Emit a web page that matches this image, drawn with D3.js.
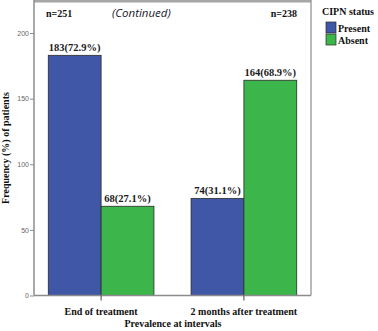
<!DOCTYPE html>
<html>
<head>
<meta charset="utf-8">
<script src="https://cdn.jsdelivr.net/npm/d3@7"></script>
<style>
  body { margin: 0; background: #fff; }
  svg { display: block; }
</style>
</head>
<body>
<svg id="chart" width="378" height="331"></svg>
<script>
// data
const intervals = ['End of treatment', '2 months after treatment'];
const totals = ['n=251', 'n=238'];
const statuses = ['Present', 'Absent'];
const present = [183, 74];
const absent = [68, 164];
const presentLabels = ['183(72.9%)', '74(31.1%)'];
const absentLabels = ['68(27.1%)', '164(68.9%)'];
const yTicks = [0, 50, 100, 150, 200];

const colors = { Present: '#3f57a6', Absent: '#3cb54b' };
const serif = '"Liberation Serif", "DejaVu Serif", serif';

const svg = d3.select('#chart');
const plotLeft = 34, plotRight = 311, plotTop = 1.5, plotBottom = 295.5;

const x = d3.scaleBand().domain(intervals).range([plotLeft, plotRight])
  .paddingInner(0.26).paddingOuter(0.1);
const sub = d3.scaleBand().domain(statuses).range([0, x.bandwidth()]);
const y = d3.scaleLinear().domain([0, 224]).range([plotBottom, plotTop]);

const rows = intervals.map((k, i) => ({
  key: k,
  vals: [
    { s: 'Present', v: present[i], label: presentLabels[i] },
    { s: 'Absent', v: absent[i], label: absentLabels[i] },
  ],
}));

// frame
svg.append('line').attr('x1', plotLeft).attr('x2', plotRight).attr('y1', 1).attr('y2', 1)
  .attr('stroke', '#a6a6a6').attr('stroke-width', 3);
svg.append('line').attr('x1', plotRight).attr('x2', plotRight).attr('y1', 0).attr('y2', plotBottom)
  .attr('stroke', '#8c8c8c').attr('stroke-width', 1.2);

// bars
const groups = svg.append('g').selectAll('g').data(rows).enter().append('g')
  .attr('transform', d => `translate(${x(d.key)},0)`);

groups.selectAll('rect').data(d => d.vals).enter().append('rect')
  .attr('x', d => sub(d.s))
  .attr('y', d => y(d.v))
  .attr('width', sub.bandwidth())
  .attr('height', d => y(0) - y(d.v))
  .attr('fill', d => colors[d.s])
  .attr('stroke', '#2b2b2b')
  .attr('stroke-width', 0.8);

groups.selectAll('text').data(d => d.vals).enter().append('text')
  .attr('x', d => sub(d.s) + sub.bandwidth() / 2)
  .attr('y', d => y(d.v) - 4)
  .attr('text-anchor', 'middle')
  .attr('font-family', serif)
  .attr('font-size', 10.5)
  .attr('font-weight', 'bold')
  .attr('fill', '#1a1a1a')
  .text(d => d.label);

// y axis
const yAxis = svg.append('g').attr('transform', `translate(${plotLeft},0)`)
  .call(d3.axisLeft(y).tickValues(yTicks).tickSize(4).tickPadding(1));
yAxis.select('.domain').attr('stroke', '#8c8c8c').attr('stroke-width', 1.5)
  .attr('d', `M0,0V${plotBottom}`);
yAxis.selectAll('.tick line').attr('stroke', '#8c8c8c');
yAxis.selectAll('.tick text').attr('font-family', 'Arial, "Liberation Sans", sans-serif')
  .attr('font-size', 7).attr('fill', '#666');

// x axis
const xAxis = svg.append('g').attr('transform', `translate(0,${plotBottom})`)
  .call(d3.axisBottom(x).tickSize(5).tickPadding(7));
xAxis.select('.domain').attr('stroke', '#8c8c8c').attr('stroke-width', 1.5)
  .attr('d', `M${plotLeft},0H${plotRight}`);
xAxis.selectAll('.tick line').attr('stroke', '#444');
xAxis.selectAll('.tick text').attr('font-family', serif).attr('font-size', 10)
  .attr('font-weight', 'bold').attr('fill', '#111');

// axis titles
svg.append('text').attr('x', 173).attr('y', 327).attr('text-anchor', 'middle')
  .attr('font-family', serif).attr('font-size', 10).attr('font-weight', 'bold')
  .attr('fill', '#111').text('Prevalence at intervals');
svg.append('text').attr('transform', 'translate(9,148) rotate(-90)')
  .attr('text-anchor', 'middle')
  .attr('font-family', serif).attr('font-size', 10).attr('font-weight', 'bold')
  .attr('fill', '#111').text('Frequency (%) of patients');

// header notes
svg.append('text').attr('x', 46).attr('y', 17)
  .attr('font-family', serif).attr('font-size', 10).attr('font-weight', 'bold')
  .attr('fill', '#111').text(totals[0]);
svg.append('text').attr('x', 297).attr('y', 17).attr('text-anchor', 'end')
  .attr('font-family', serif).attr('font-size', 10).attr('font-weight', 'bold')
  .attr('fill', '#111').text(totals[1]);
svg.append('text').attr('x', 112).attr('y', 17)
  .attr('font-family', '"Open Sans", "Liberation Sans", sans-serif').attr('font-size', 11.5)
  .attr('font-style', 'italic').attr('fill', '#1a1a2e').text('(Continued)');

// legend
const legend = svg.append('g').attr('transform', 'translate(322,0)');
legend.append('text').attr('x', 0).attr('y', 15)
  .attr('font-family', serif).attr('font-size', 10).attr('font-weight', 'bold')
  .attr('fill', '#111').text('CIPN status');
const items = legend.selectAll('g.item').data(statuses).enter().append('g')
  .attr('class', 'item')
  .attr('transform', (d, i) => `translate(4,${22 + i * 12})`);
items.append('rect').attr('width', 10).attr('height', 11)
  .attr('fill', d => colors[d]).attr('stroke', '#2b2b2b').attr('stroke-width', 0.7);
items.append('text').attr('x', 12).attr('y', 9.5)
  .attr('font-family', serif).attr('font-size', 10).attr('font-weight', 'bold')
  .attr('fill', '#111').text(d => d);
</script>
</body>
</html>
